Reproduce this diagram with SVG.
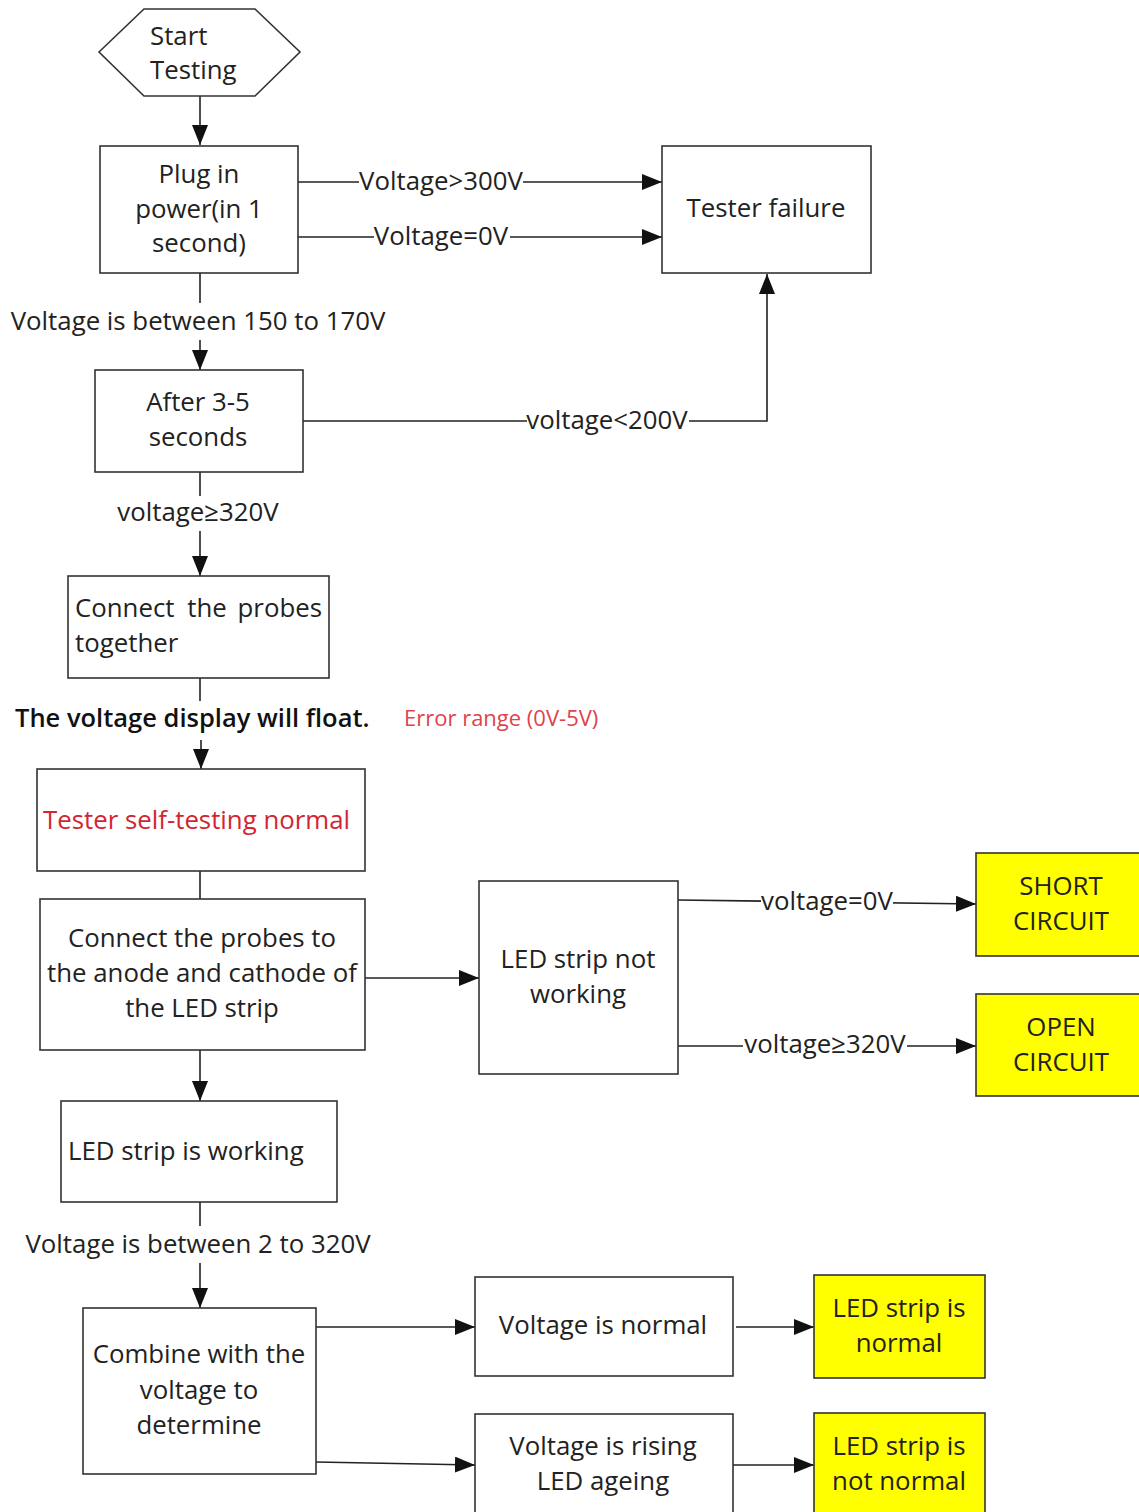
<svg xmlns="http://www.w3.org/2000/svg" width="1139" height="1512" viewBox="0 0 1139 1512">
<defs>
<marker id="arr" markerUnits="userSpaceOnUse" markerWidth="20" markerHeight="16" refX="20" refY="8" orient="auto">
<path d="M0,0 L20,8 L0,16 Z" fill="#111"/>
</marker>
<style>
.box{fill:#fff;stroke:#333;stroke-width:1.6}
.yel{fill:#ffff00;stroke:#333;stroke-width:1.6}
.ln{fill:none;stroke:#222;stroke-width:1.6}
.ar{fill:none;stroke:#222;stroke-width:1.6;marker-end:url(#arr)}
text{font-family:"Open Sans","Noto Sans","Liberation Sans",sans-serif;font-size:25.8px;fill:#222}
.c{text-anchor:middle}
.e{text-anchor:end}
.bg{fill:#fff}
.red{fill:#d12631}
.bold{font-weight:600;font-size:25.5px;fill:#111}
.err{font-size:22px;fill:#e0434c}
</style>
</defs>
<rect width="1139" height="1512" fill="#fff"/>

<g id="connectors">
<path class="ar" d="M200,96 V145"/>
<path class="ar" d="M298,182 H662"/>
<path class="ar" d="M298,237 H662"/>
<path class="ln" d="M200,273 V303"/>
<path class="ar" d="M200,340 V370"/>
<path class="ar" d="M303,421 H767 V274"/>
<path class="ln" d="M200,472 V496"/>
<path class="ar" d="M200,531 V576"/>
<path class="ln" d="M200,678 V701"/>
<path class="ar" d="M201,740 V769"/>
<path class="ln" d="M200,871 V899"/>
<path class="ar" d="M365,978 H479"/>
<path class="ar" d="M678,900 L976,904"/>
<path class="ar" d="M678,1046 H976"/>
<path class="ar" d="M200,1050 V1101"/>
<path class="ln" d="M200,1202 V1226"/>
<path class="ar" d="M200,1263 V1308"/>
<path class="ar" d="M316,1327 H475"/>
<path class="ar" d="M316,1462 L475,1465"/>
<path class="ar" d="M736,1327 H814"/>
<path class="ar" d="M733,1465 H814"/>
<rect class="bg" x="359" y="168" width="164" height="28"/>
<text x="441" y="190" class="c">Voltage&gt;300V</text>
<rect class="bg" x="374" y="223" width="136" height="28"/>
<text x="441" y="245" class="c">Voltage=0V</text>
<rect class="bg" x="527" y="407" width="162" height="28"/>
<text x="607" y="429" class="c">voltage&lt;200V</text>
<text x="198" y="330" class="c">Voltage is between 150 to 170V</text>
<text x="198" y="521" class="c">voltage≥320V</text>
<text x="15" y="727" class="bold">The voltage display will float.</text>
<text x="404" y="726" class="err">Error range (0V-5V)</text>
<rect class="bg" x="761" y="888" width="132" height="28"/>
<text x="827" y="910" class="c">voltage=0V</text>
<rect class="bg" x="743" y="1031" width="164" height="28"/>
<text x="825" y="1053" class="c">voltage≥320V</text>
<text x="198" y="1253" class="c">Voltage is between 2 to 320V</text>
</g>

<g id="start">
<polygon class="box" points="99,52 144,9 255,9 300,52 255,96 144,96"/>
<text x="150" y="45">Start</text>
<text x="150" y="79">Testing</text>
</g>

<g id="plug">
<rect class="box" x="100" y="146" width="198" height="127"/>
<text x="199" y="183" class="c">Plug in</text>
<text x="199" y="218" class="c">power(in 1</text>
<text x="199" y="252" class="c">second)</text>
</g>

<g id="tester-failure">
<rect class="box" x="662" y="146" width="209" height="127"/>
<text x="766" y="217" class="c">Tester failure</text>
</g>

<g id="after">
<rect class="box" x="95" y="370" width="208" height="102"/>
<text x="198" y="411" class="c">After 3-5</text>
<text x="198" y="446" class="c">seconds</text>
</g>

<g id="connect-together">
<rect class="box" x="68" y="576" width="261" height="102"/>
<text x="75" y="617">Connect</text>
<text x="207" y="617" class="c">the</text>
<text x="322" y="617" class="e">probes</text>
<text x="75" y="652">together</text>
</g>

<g id="self-test">
<rect class="box" x="37" y="769" width="328" height="102"/>
<text x="43" y="829" class="red">Tester self-testing normal</text>
</g>

<g id="connect-anode">
<rect class="box" x="40" y="899" width="325" height="151"/>
<text x="202" y="947" class="c">Connect the probes to</text>
<text x="202" y="982" class="c">the anode and cathode of</text>
<text x="202" y="1017" class="c">the LED strip</text>
</g>

<g id="not-working">
<rect class="box" x="479" y="881" width="199" height="193"/>
<text x="578" y="968" class="c">LED strip not</text>
<text x="578" y="1003" class="c">working</text>
</g>

<g id="short">
<rect class="yel" x="976" y="853" width="170" height="103"/>
<text x="1061" y="895" class="c">SHORT</text>
<text x="1061" y="930" class="c">CIRCUIT</text>
</g>

<g id="open">
<rect class="yel" x="976" y="994" width="170" height="102"/>
<text x="1061" y="1036" class="c">OPEN</text>
<text x="1061" y="1071" class="c">CIRCUIT</text>
</g>

<g id="working">
<rect class="box" x="61" y="1101" width="276" height="101"/>
<text x="68" y="1160">LED strip is working</text>
</g>

<g id="combine">
<rect class="box" x="83" y="1308" width="233" height="166"/>
<text x="199" y="1363" class="c">Combine with the</text>
<text x="199" y="1399" class="c">voltage to</text>
<text x="199" y="1434" class="c">determine</text>
</g>

<g id="v-normal">
<rect class="box" x="475" y="1277" width="258" height="99"/>
<text x="603" y="1334" class="c">Voltage is normal</text>
</g>

<g id="v-rising">
<rect class="box" x="475" y="1414" width="258" height="110"/>
<text x="603" y="1455" class="c">Voltage is rising</text>
<text x="603" y="1490" class="c">LED ageing</text>
</g>

<g id="strip-normal">
<rect class="yel" x="814" y="1275" width="171" height="103"/>
<text x="899" y="1317" class="c">LED strip is</text>
<text x="899" y="1352" class="c">normal</text>
</g>

<g id="strip-not-normal">
<rect class="yel" x="814" y="1413" width="171" height="110"/>
<text x="899" y="1455" class="c">LED strip is</text>
<text x="899" y="1490" class="c">not normal</text>
</g>
</svg>
